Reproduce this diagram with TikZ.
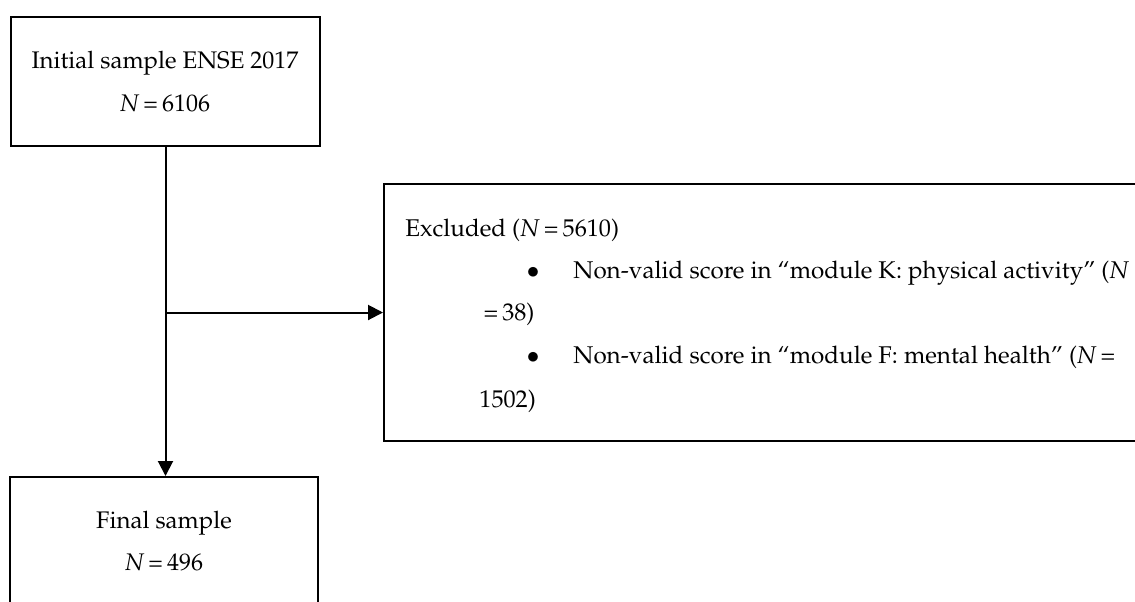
\documentclass[tikz,border=0pt]{standalone}
\usepackage[T1]{fontenc}
\usepackage{mathpazo}
\usetikzlibrary{arrows.meta}
\newcommand{\eqsign}{\kern0.17em=\kern0.17em}
\tikzset{
  box/.style={draw, line width=1pt, inner sep=0pt},
  conn/.style={line width=1pt, -{Triangle[length=7.5pt,width=7.5pt]}},
  lineL/.style={inner sep=0pt, anchor=base west, font=\fontsize{12.1}{14}\selectfont},
  lineC/.style={inner sep=0pt, anchor=base, font=\fontsize{12}{14}\selectfont},
}
\begin{document}
\begin{tikzpicture}[x=0.5pt,y=-0.5pt]
\clip (0,0) rectangle (1135,601);
\fill[white] (0,0) rectangle (1135,601);
% boxes
\node[box, minimum width=154.5pt, minimum height=64.5pt] (top) at (165.5,81.5) {};
\node[box, minimum width=154pt, minimum height=70pt] (bot) at (164,547) {};
\node[box, minimum width=385pt, minimum height=128.5pt] (excl) at (769,312.5) {};
% texts
\node[lineC] (t1) at (165,68) {Initial sample ENSE 2017};
\node[lineC] (t2) at (165,111) {\textit{N}\eqsign 6106};
\node[lineC] (b1) at (164,528) {Final sample};
\node[lineC] (b2) at (164,570) {\textit{N}\eqsign 496};
\node[lineL] (e0) at (405,236) {Excluded (\textit{N}\eqsign 5610)};
\node[lineC] (d1) at (533,278) {$\bullet$};
\node[lineL] (e1) at (573,278) {Non-valid score in ``module K: physical activity'' (\textit{N}};
\node[lineL] (e2) at (479,320) {\eqsign 38)};
\node[lineC] (d2) at (533,363) {$\bullet$};
\node[lineL] (e3) at (573,363) {Non-valid score in ``module F: mental health'' (\textit{N}\eqsign};
\node[lineL] (e4) at (479,407) {1502)};
% connectors
\coordinate (j) at (top.south |- excl.west);
\draw[conn] (top.south) -- (top.south |- bot.north);
\draw[conn] (j) -- (excl.west);
\end{tikzpicture}
\end{document}
